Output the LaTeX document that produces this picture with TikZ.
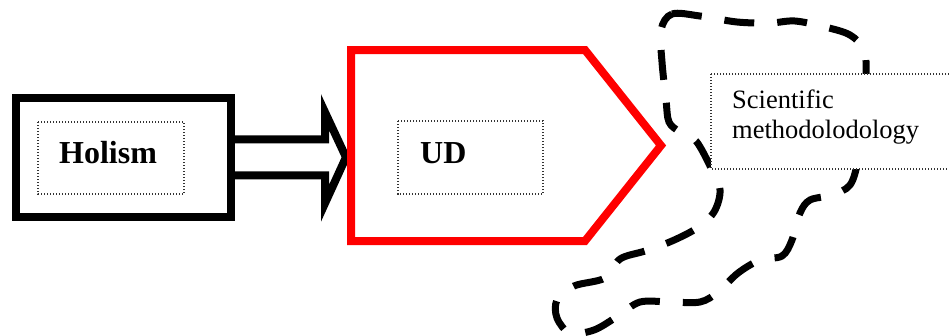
\documentclass[tikz,border=0pt]{standalone}
\usepackage{fontspec}
\setmainfont{Liberation Serif}
\usetikzlibrary{calc}
\tikzset{
  thickbox/.style={draw=black, line width=8pt, minimum width=215.5pt, minimum height=119.5pt, inner sep=0pt},
  dotbox/.style={draw=black!80, line width=1.3pt, dash pattern=on 1.3pt off 1.7pt},
  bigbold/.style={font=\fontsize{32}{36}\selectfont\bfseries, inner sep=0pt, anchor=base west},
  scitext/.style={font=\fontsize{26.5}{30}\selectfont, inner sep=0pt, anchor=base west},
  blobline/.style={line width=7pt, dash pattern=on 30pt off 23pt},
  redshape/.style={draw=red, line width=8pt, line join=miter},
  blockarrow/.style={draw=black, line width=8pt, line join=miter}
}
\begin{document}
\begin{tikzpicture}[x=1pt, y=-1pt]
\useasboundingbox (0,0) rectangle (949,335);
\clip (0,0) rectangle (949,335);
% dashed freeform blob
\draw[blobline] plot[smooth cycle, tension=0.55] coordinates {
 (661,30) (672,14) (700,16) (737,22) (770,23) (795,21) (825,27) (850,35)
 (864,50) (866,75) (863,120) (858,160) (850,185) (832,195) (810,200) (800,213)
 (792,240) (782,256) (760,260) (738,273) (718,292) (700,302) (670,302) (640,302)
 (618,316) (594,330) (570,333) (557,318) (557,300) (574,286) (605,278) (620,259)
 (645,251) (672,241) (697,228) (714,212) (720,190) (711,168) (696,141) (680,132)
 (669,122) (666,100) (662,62)};
% Holism box
\node[thickbox] (hol) at (123.25,157.25) {};
\draw[dotbox] (38,122) rectangle (184,194);
\node[bigbold] (holt) at (59,163) {Holism};
% block arrow from Holism to UD (tip hidden under the red outline)
\coordinate (udw) at (346,157.25);
\draw[blockarrow] ($(hol.east)+(0,-18)$) -- ++(90,0) -- ++(0,-27) -- (udw)
  -- ($(hol.east)+(90,46)$) -- ++(0,-28) -- ($(hol.east)+(0,18)$);
% UD pentagon
\draw[redshape] (351,50) -- (585,50) -- (661,145.5) -- (585,241) -- (351,241) -- cycle;
\draw[dotbox] (398,121) rectangle (543,194);
\node[bigbold] (udt) at (420,163) {UD};
% Scientific methodology box
\draw[dotbox, fill=white] (711,74) rectangle (960,169);
\node[scitext] (sci1) at (732,108) {Scientific};
\node[scitext] (sci2) at (732,138) {methodolodology};
\end{tikzpicture}
\end{document}
